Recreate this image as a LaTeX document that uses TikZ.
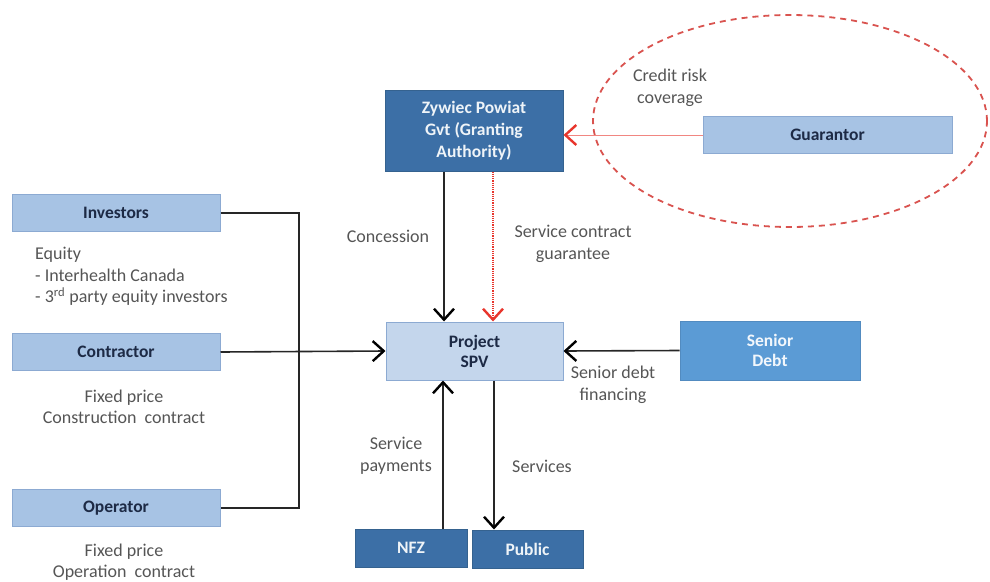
\documentclass[tikz,border=0pt]{standalone}
\usepackage{fontspec}
\setmainfont{Carlito}
\usetikzlibrary{arrows.meta}
\definecolor{lightfill}{HTML}{A7C3E4}
\definecolor{lightdraw}{HTML}{8CAAD2}
\definecolor{spvfill}{HTML}{C4D6EC}
\definecolor{darkfill}{HTML}{3C6FA6}
\definecolor{darkdraw}{HTML}{35628F}
\definecolor{medfill}{HTML}{5B9BD5}
\definecolor{navytext}{HTML}{1D2A45}
\definecolor{labeltext}{HTML}{555555}
\definecolor{redline}{HTML}{E8352C}
\definecolor{redellipse}{HTML}{D9534F}
\tikzset{
  x=1pt, y=-1pt,
  lightbox/.style={draw=lightdraw, fill=lightfill, line width=1pt, text=navytext, font=\fontsize{17.5}{20}\selectfont\bfseries, inner sep=0pt},
  spvbox/.style={draw=lightdraw, fill=spvfill, line width=1pt, text=navytext, font=\fontsize{17.5}{20}\selectfont\bfseries, inner sep=0pt, align=center},
  darkbox/.style={draw=darkdraw, fill=darkfill, line width=1pt, text=white!92!darkfill, font=\fontsize{17.5}{22}\selectfont\bfseries, inner sep=0pt, align=center},
  medbox/.style={draw=medfill!90!black, fill=medfill, line width=1pt, text=white!92!medfill, font=\fontsize{17.5}{20}\selectfont\bfseries, inner sep=0pt, align=center},
  lbl/.style={text=labeltext, font=\fontsize{18}{21.5}\selectfont, inner sep=0pt, align=center},
  conn/.style={line width=1.6pt, black!85},
  tipv/.style={-{Straight Barb[length=11pt, width=20pt, line width=2.4pt, #1]}},
  arr/.style={conn, tipv=black},
}
\begin{document}
\begin{tikzpicture}
\useasboundingbox (0,0) rectangle (990,581);
% boxes
\node[lightbox, minimum width=208pt, minimum height=37pt] (inv) at (116,213) {Investors};
\node[lightbox, minimum width=208pt, minimum height=37pt] (con) at (116,352) {Contractor};
\node[lightbox, minimum width=208pt, minimum height=37pt] (op) at (116,508) {Operator};
\node[darkbox, minimum width=178pt, minimum height=81pt] (gov) at (474,130.5) {Zywiec Powiat\\Gvt (Granting\\Authority)};
\node[lightbox, minimum width=249pt, minimum height=37pt] (gua) at (827.5,135) {Guarantor};
\node[spvbox, minimum width=177pt, minimum height=58pt] (spv) at (474.5,351) {Project\\SPV};
\node[medbox, minimum width=180pt, minimum height=59pt] (sen) at (770,350.5) {Senior\\Debt};
\node[darkbox, minimum width=112pt, minimum height=38pt] (nfz) at (411,548) {NFZ};
\node[darkbox, minimum width=111pt, minimum height=38pt] (pub) at (527.5,549) {Public};
% ellipse
\draw[redellipse, line width=1.8pt, dash pattern=on 6pt off 5pt] (790,121) ellipse [x radius=197pt, y radius=106pt];
% left bus
\coordinate (bus1) at (299,213);
\coordinate (bus2) at (299,508);
\draw[conn] (inv.east) -- (bus1) -- (bus2) -- (op.east);
\draw[arr] (con.east) -- (spv.west);
% government
\draw[arr] (gov.south -| 444,0) -- (spv.north -| 444,0);
\draw[redline, line width=1.2pt, densely dotted, tipv=redline] (gov.south -| 493,0) -- (spv.north -| 493,0);
\draw[redline!60, line width=1pt, tipv=redline] (gua.west) -- (gov.east |- gua.west);
% senior debt
\draw[arr] (sen.west) -- (spv.east);
% NFZ / public
\draw[arr] (nfz.north -| 443,0) -- (spv.south -| 443,0);
\draw[arr] (spv.south -| 494,0) -- (pub.north -| 494,0);
% labels
\node[lbl] (lcon) at (388,236) {Concession};
\node[lbl] (lscg) at (573,244) {Service contract\\guarantee};
\node[lbl] (lcrc) at (670,88) {Credit risk\\coverage};
\node[lbl] (lsdf) at (613,385) {Senior debt\\financing};
\node[lbl] (lsp) at (396,456) {Service\\payments};
\node[lbl] (lsv) at (542,466) {Services};
\node[lbl, align=left, anchor=north west] (leq) at (35,247) {Equity\\- Interhealth Canada\\- 3\textsuperscript{rd} party equity investors};
\node[lbl] (lfc) at (124,407) {Fixed price\\Construction\ \ contract};
\node[lbl] (lfo) at (124,562) {Fixed price\\Operation\ \ contract};
\end{tikzpicture}
\end{document}
